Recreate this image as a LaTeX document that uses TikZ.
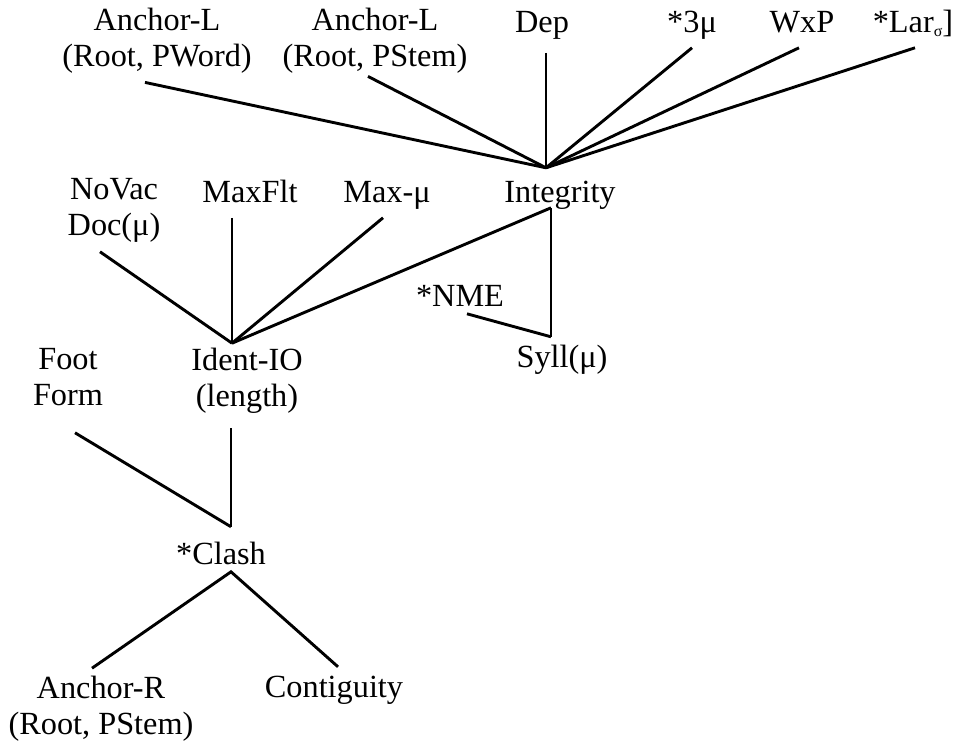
\documentclass[tikz,border=0pt]{standalone}
\usepackage{fontspec}
\setmainfont{Liberation Serif}
\usepackage{tikz}
\newcommand\lblfont{\fontsize{32.3}{36}\selectfont}
\newcommand\lowsub[1]{\raisebox{-4pt}{\fontsize{16}{16}\selectfont #1}}
\tikzset{
    con-label/.style = {align=center, inner sep=0pt, outer sep=5pt, font=\lblfont,
        execute at begin node=\strut, execute at end node=\strut},
    con-line/.style = {line width=2.9pt},
}

\begin{document}
\begin{tikzpicture}[x=1pt, y=-1pt]
\useasboundingbox (0,0) rectangle (958,742);
% top row
\node[con-label] (pword) at (157,42.8) {Anchor-L\\(Root, PWord)};
\node[con-label] (pstem) at (375,42.8) {Anchor-L\\(Root, PStem)};
\node[con-label] (dep) at (542,24.8) {Dep};
\node[con-label] (three) at (692,24.8) {*3μ};
\node[con-label] (wxp) at (802,24.8) {WxP};
\node[con-label] (lar) at (913,24.8) {*Lar\lowsub{σ}]};
% second row
\node[con-label] (novac) at (114,212.8) {NoVac\\Doc(μ)};
\node[con-label] (maxflt) at (250,194.8) {MaxFlt};
\node[con-label] (maxmu) at (387,194.8) {Max-μ};
\node[con-label] (integ) at (560,194.8) {Integrity};
\node[con-label] (nme) at (460,298.8) {*NME};
\node[con-label] (syll) at (562,359.8) {Syll(μ)};
% lower part
\node[con-label] (foot) at (68,382.8) {Foot\\Form};
\node[con-label] (ident) at (247,382.8) {Ident-IO\\(length)};
\node[con-label] (clash) at (221,556.8) {*Clash};
\node[con-label] (anchr) at (101,710.8) {Anchor-R\\(Root, PStem)};
\node[con-label] (contig) at (334,689.8) {Contiguity};

\coordinate (integ-up) at ([xshift=-14pt,yshift=4pt]integ.north);
\coordinate (integ-dn) at ([xshift=-9pt,yshift=10pt]integ.south);
\coordinate (syll-up) at ([xshift=-11pt]syll.north);
\coordinate (ident-up) at ([xshift=-15pt]ident.north);
\coordinate (ident-dn) at ([xshift=-16pt,yshift=-6pt]ident.south);
\coordinate (clash-up) at ([xshift=10pt,yshift=7pt]clash.north);
\coordinate (clash-dn) at ([xshift=10pt,yshift=8pt]clash.south);

\draw[con-line] ([xshift=-12pt]pword.south) -- (integ-up);
\draw[con-line] ([xshift=-7pt,yshift=6pt]pstem.south) -- (integ-up);
\draw[con-line] ([xshift=4pt,yshift=-5pt]dep.south) -- (integ-up);
\draw[con-line] (three.south) -- (integ-up);
\draw[con-line] ([xshift=-3pt]wxp.south) -- (integ-up);
\draw[con-line] ([xshift=2pt]lar.south) -- (integ-up);

\draw[con-line] ([xshift=-14pt]novac.south) -- (ident-up);
\draw[con-line] ([xshift=-18pt]maxflt.south) -- (ident-up);
\draw[con-line] ([xshift=-4pt]maxmu.south) -- (ident-up);
\draw[con-line] (integ-dn) -- (ident-up);
\draw[con-line] (integ-dn) -- (syll-up);
\draw[con-line] ([xshift=7pt,yshift=8pt]nme.south) -- (syll-up);

\draw[con-line] ([xshift=7pt,yshift=-11pt]foot.south) -- (clash-up);
\draw[con-line] (ident-dn) -- (clash-up);
\draw[con-line] ([xshift=-9pt,yshift=3pt]anchr.north) -- (clash-dn) -- ([xshift=4pt]contig.north);
\end{tikzpicture}
\end{document}
